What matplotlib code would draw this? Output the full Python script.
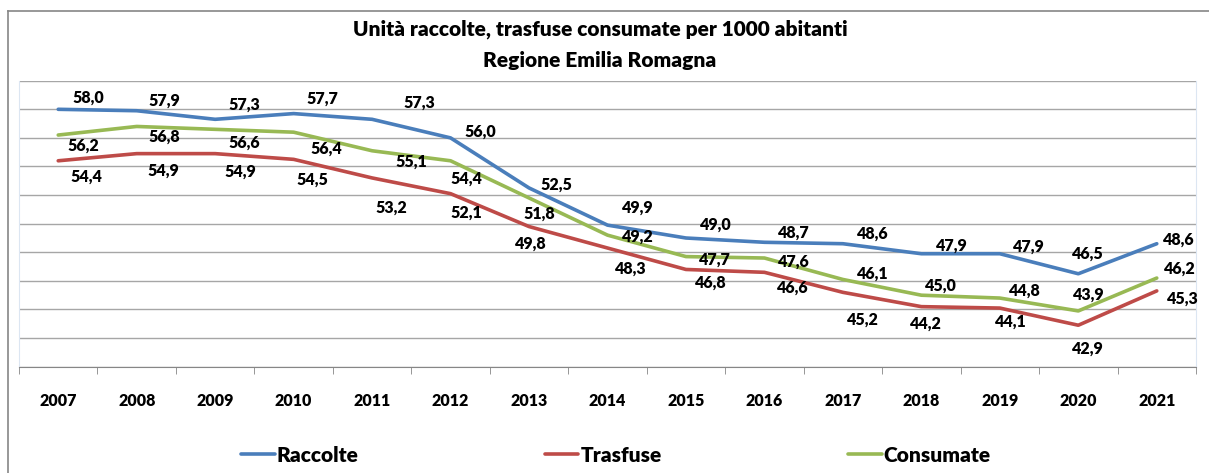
import matplotlib
matplotlib.use("Agg")
import matplotlib.pyplot as plt
from matplotlib.lines import Line2D
import numpy as np

# data
years = ["2007", "2008", "2009", "2010", "2011", "2012", "2013", "2014",
         "2015", "2016", "2017", "2018", "2019", "2020", "2021"]
raccolte = [58.0, 57.9, 57.3, 57.7, 57.3, 56.0, 52.5, 49.9, 49.0, 48.7, 48.6, 47.9, 47.9, 46.5, 48.6]
trasfuse = [54.4, 54.9, 54.9, 54.5, 53.2, 52.1, 49.8, 48.3, 46.8, 46.6, 45.2, 44.2, 44.1, 42.9, 45.3]
consumate = [56.2, 56.8, 56.6, 56.4, 55.1, 54.4, 51.8, 49.2, 47.7, 47.6, 46.1, 45.0, 44.8, 43.9, 46.2]

# label offsets in pixels (dx, dy up-positive)
off_racc = [(30, 12), (28, 10), (29, 15), (29, 15), (47, 17), (30, 6), (27, 3), (30, 17),
            (30, 13), (29, 10), (30, 10), (30, 8), (29, 7), (10, 20), (22, 4)]
off_cons = [(25, -11), (28, -10), (29, -13), (33, -17), (39, -11), (16, -18), (10, -16), (30, -2),
            (29, -3), (29, -4), (30, 6), (20, 10), (25, 7), (10, 16), (23, 9)]
off_tras = [(28, -16), (27, -17), (25, -18), (19, -20), (19, -30), (16, -19), (2, -17), (23, -21),
            (25, -13), (28, -15), (20, -27), (5, -17), (11, -14), (10, -23), (26, -8)]

plt.rcParams['font.family'] = ['Lato', 'DejaVu Sans']
WEIGHT = "heavy"

W, H = 1209, 473
fig = plt.figure(figsize=(W / 100, H / 100), dpi=100)
ax = fig.add_axes([19 / W, 1 - 366.7 / H, (1196 - 19) / W, (366.7 - 80.7) / H])

x = np.arange(len(years))
series = [
    ("Raccolte", raccolte, "#4a7ebb", off_racc),
    ("Trasfuse", trasfuse, "#be4b48", off_tras),
    ("Consumate", consumate, "#98b954", off_cons),
]
for name, vals, col, offs in series:
    ax.plot(x, vals, color=col, lw=2.6, solid_capstyle="round", label=name)
    for xi, v, (dx, dy) in zip(x, vals, offs):
        ax.annotate(f"{v:.1f}".replace(".", ","), (xi, v), xytext=(dx * 0.72, dy * 0.72),
                    textcoords="offset points", ha="center", va="center",
                    fontsize=11.5, fontweight=WEIGHT, color="black")

ax.set_xlim(-0.5, len(years) - 0.5)
ax.set_ylim(40, 60)
ax.set_yticks(np.arange(40, 61, 2))
ax.tick_params(axis="y", length=0, labelleft=False)
ax.grid(axis="y", color="#a6a6a6", lw=1)
ax.set_axisbelow(True)

ax.set_xticks(x)
ax.set_xticklabels(years, fontsize=11.5, fontweight=WEIGHT)
ax.tick_params(axis="x", which="major", length=0, pad=19)
ax.set_xticks(np.arange(-0.5, len(years), 1), minor=True)
ax.tick_params(axis="x", which="minor", length=5, color="#868686", direction="out")

for s in ["left", "right"]:
    ax.spines[s].set_color("#dce6f2")
ax.spines["top"].set_visible(False)
ax.spines["bottom"].set_color("#868686")

fig.text(600 / W, 1 - 29 / H, "Unità raccolte, trasfuse consumate per 1000 abitanti",
         ha="center", va="center", fontsize=15, fontweight=WEIGHT)
fig.text(600 / W, 1 - 60 / H, "Regione Emilia Romagna",
         ha="center", va="center", fontsize=15, fontweight=WEIGHT)

# outer chart border (top and left edges visible)
fig.add_artist(Line2D([8 / W, 1], [1 - 11 / H, 1 - 11 / H], color="#868686", lw=1.2))
fig.add_artist(Line2D([8 / W, 8 / W], [0, 1 - 11 / H], color="#868686", lw=1.2))

fig.legend(loc="center", bbox_to_anchor=(616 / W, 1 - 455 / H), ncol=3, frameon=False,
           prop={"weight": WEIGHT, "size": 15}, handlelength=1.6, handletextpad=0.1,
           columnspacing=8.95)

fig.savefig("out.png", dpi=100)
